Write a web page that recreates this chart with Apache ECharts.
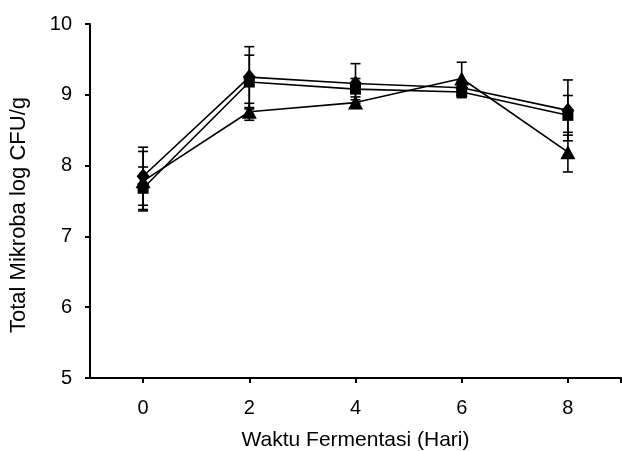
<!DOCTYPE html>
<html>
<head>
<meta charset="utf-8">
<script src="https://cdn.jsdelivr.net/npm/echarts@6/dist/echarts.min.js"></script>
<style>
  html, body { margin: 0; padding: 0; background: #fff; }
  #chart { width: 622px; height: 451px; }
</style>
</head>
<body>
<div id="chart"></div>
<script>
// hari fermentasi
const days = [0, 2, 4, 6, 8];
const xTicks = [0, 2, 4, 6, 8];
const yTicks = [5, 6, 7, 8, 9, 10];

// tiga perlakuan: belah ketupat, kotak, segitiga
const seriesDiamond = [7.85, 9.25, 9.16, 9.10, 8.78];
const errDiamond = [0.41, 0.43, 0.28, 0.10, 0.43];
const seriesSquare = [7.68, 9.18, 9.08, 9.04, 8.71];
const errSquare = [0.30, 0.38, 0.15, 0.08, 0.28];
const seriesTriangle = [7.78, 8.76, 8.89, 9.23, 8.19];
const errTriangle = [0.42, 0.12, 0.08, 0.23, 0.28];

const font = "'Liberation Sans', Arial, sans-serif";

function pairs(vals) {
  return days.map((d, i) => [d, vals[i]]);
}

function errData(vals, errs) {
  return days.map((d, i) => [d, vals[i] - errs[i], vals[i] + errs[i]]);
}

function renderErr(params, api) {
  const lo = api.coord([api.value(0), api.value(1)]);
  const hi = api.coord([api.value(0), api.value(2)]);
  const half = 5;
  const style = { stroke: "#000", lineWidth: 1.6 };
  return {
    type: "group",
    children: [
      { type: "line", shape: { x1: hi[0], y1: hi[1], x2: lo[0], y2: lo[1] }, style },
      { type: "line", shape: { x1: hi[0] - half, y1: hi[1], x2: hi[0] + half, y2: hi[1] }, style },
      { type: "line", shape: { x1: lo[0] - half, y1: lo[1], x2: lo[0] + half, y2: lo[1] }, style },
    ],
  };
}

function lineSeries(vals, symbol, size) {
  return {
    type: "line",
    data: pairs(vals),
    symbol,
    symbolSize: size,
    showAllSymbol: true,
    lineStyle: { color: "#000", width: 1.6 },
    itemStyle: { color: "#000" },
    z: 3,
    animation: false,
  };
}

function errSeries(vals, errs) {
  return {
    type: "custom",
    data: errData(vals, errs),
    renderItem: renderErr,
    encode: { x: 0, y: [1, 2] },
    z: 2,
    animation: false,
  };
}

const chart = echarts.init(document.getElementById("chart"));

chart.setOption({
  backgroundColor: "#fff",
  animation: false,
  grid: { left: 90, right: 1, top: 24, bottom: 73, outerBoundsMode: "none" },
  xAxis: {
    type: "value",
    min: -1,
    max: 9,
    name: "Waktu Fermentasi (Hari)",
    nameLocation: "middle",
    nameGap: 52,
    nameTextStyle: { fontFamily: font, fontSize: 21, color: "#000", padding: [0, 0, 0, 0] },
    axisLine: { onZero: false, lineStyle: { color: "#000", width: 2 } },
    axisTick: { show: true, inside: false, length: 5, customValues: xTicks.concat([9]), lineStyle: { color: "#000", width: 2 } },
    axisLabel: { customValues: xTicks, margin: 20, fontFamily: font, fontSize: 20, color: "#000" },
    splitLine: { show: false },
  },
  yAxis: {
    type: "value",
    min: yTicks[0],
    max: yTicks[yTicks.length - 1],
    interval: 1,
    name: "Total Mikroba log CFU/g",
    nameLocation: "middle",
    nameGap: 60,
    nameTextStyle: { fontFamily: font, fontSize: 22, color: "#000", padding: [0, 28, 0, 0] },
    axisLine: { show: true, onZero: false, lineStyle: { color: "#000", width: 2 } },
    axisTick: { show: true, inside: false, length: 5, lineStyle: { color: "#000", width: 2 } },
    axisLabel: { margin: 18, fontFamily: font, fontSize: 20, color: "#000" },
    splitLine: { show: false },
  },
  series: [
    errSeries(seriesDiamond, errDiamond),
    errSeries(seriesSquare, errSquare),
    errSeries(seriesTriangle, errTriangle),
    lineSeries(seriesDiamond, "diamond", [13, 16]),
    lineSeries(seriesSquare, "rect", 11),
    lineSeries(seriesTriangle, "triangle", [15, 14]),
  ],
});
</script>
</body>
</html>
